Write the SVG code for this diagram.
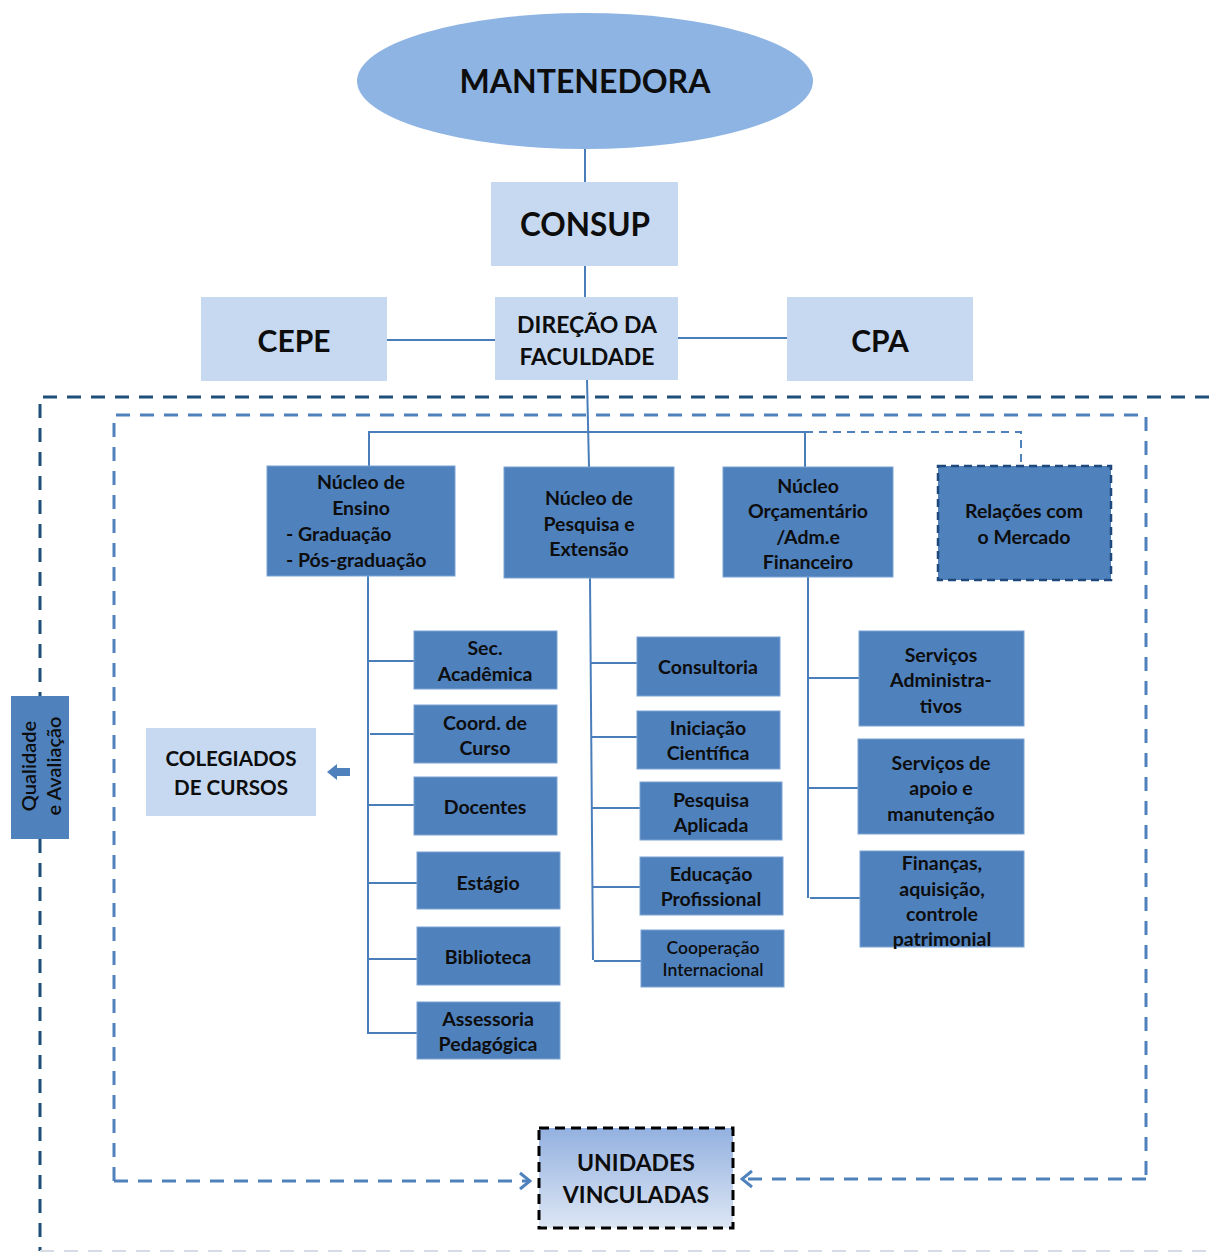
<svg xmlns="http://www.w3.org/2000/svg" width="1209" height="1254" viewBox="0 0 1209 1254">
<defs>
<linearGradient id="gU" x1="0" y1="0" x2="0" y2="1"><stop offset="0" stop-color="#93B1E0"/><stop offset="1" stop-color="#DDE6F4"/></linearGradient>
<marker id="chev" markerWidth="14" markerHeight="20" refX="12" refY="10" orient="auto" markerUnits="userSpaceOnUse"><path d="M2,2 L12,10 L2,18" fill="none" stroke="#4F81BD" stroke-width="3"/></marker>
</defs>
<style>
text{font-family:Lato,"Open Sans","Liberation Sans",sans-serif;font-weight:bold;fill:#0D0D0D;text-anchor:middle}
.dk{fill:#4F81BD;stroke:#7AA3D4;stroke-width:1}
.lt{fill:#C6D9F1}
.c{fill:none;stroke:#4A7EBB;stroke-width:2}
.t18{font-size:19.5px}
.t22{font-size:23px}
.t30{font-size:31.5px}
</style>
<rect width="1209" height="1254" fill="#FFFFFF"/>
<g id="frames">
<path d="M1209,397 H40 V696 M40,839 V1251" fill="none" stroke="#1F4E79" stroke-width="3" stroke-dasharray="14,10"/>
<path d="M40,1251 H1209" fill="none" stroke="#D5DCE6" stroke-width="2" stroke-dasharray="14,10"/>
<path d="M114,1181 V415 H1146 V1179" fill="none" stroke="#4F81BD" stroke-width="3" stroke-dasharray="14,10"/>
</g>
<g id="connectors">
<line class="c" x1="585" y1="149" x2="585" y2="182"/>
<line class="c" x1="585" y1="266" x2="585" y2="297"/>
<line class="c" x1="387" y1="340" x2="495" y2="340"/>
<line class="c" x1="678" y1="338" x2="787" y2="338"/>
<line class="c" x1="587" y1="380" x2="589" y2="467"/>
<polyline class="c" points="369,466 369,432 805,432 805,467"/>
<polyline fill="none" stroke="#4F81BD" stroke-width="2" stroke-dasharray="8,6" points="805,432 1021,432 1021,466"/>
<line class="c" x1="368" y1="576" x2="368" y2="1034"/>
<line class="c" x1="368" y1="661" x2="414" y2="661"/>
<line class="c" x1="370" y1="734" x2="414" y2="734"/>
<line class="c" x1="368" y1="805" x2="414" y2="805"/>
<line class="c" x1="368" y1="883" x2="417" y2="883"/>
<line class="c" x1="368" y1="959" x2="417" y2="959"/>
<line class="c" x1="368" y1="1033" x2="417" y2="1033"/>
<line class="c" x1="590" y1="578" x2="593" y2="960"/>
<line class="c" x1="591" y1="663" x2="637" y2="663"/>
<line class="c" x1="591" y1="737" x2="637" y2="737"/>
<line class="c" x1="592" y1="808" x2="640" y2="808"/>
<line class="c" x1="592" y1="887" x2="640" y2="887"/>
<line class="c" x1="594" y1="961" x2="641" y2="961"/>
<line class="c" x1="808" y1="577" x2="808" y2="898"/>
<line class="c" x1="808" y1="678" x2="859" y2="678"/>
<line class="c" x1="808" y1="788" x2="858" y2="788"/>
<line class="c" x1="810" y1="898" x2="860" y2="898"/>
<path d="M114,1181 H530" fill="none" stroke="#4F81BD" stroke-width="3" stroke-dasharray="14,10" marker-end="url(#chev)"/>
<path d="M1146,1179 H742" fill="none" stroke="#4F81BD" stroke-width="3" stroke-dasharray="14,10" marker-end="url(#chev)"/>
<path d="M350,768 H337 V764 L327,772 L337,780 V776 H350 Z" fill="#4F81BD"/>
</g>
<g id="mantenedora">
<ellipse cx="585" cy="81" rx="228" ry="68" fill="#8EB4E3"/>
<text x="585" y="93" style="font-size:32px">MANTENEDORA</text>
</g>
<g id="consup">
<rect class="lt" x="491" y="182" width="187" height="84"/>
<text class="t30" x="585" y="236">CONSUP</text>
</g>
<g id="direcao">
<rect class="lt" x="495" y="297" width="183" height="83"/>
<text class="t22" x="587" y="333">DIREÇÃO DA</text>
<text class="t22" x="587" y="365">FACULDADE</text>
</g>
<g id="cepe">
<rect class="lt" x="201" y="297" width="186" height="84"/>
<text x="294" y="352" style="font-size:30px">CEPE</text>
</g>
<g id="cpa">
<rect class="lt" x="787" y="297" width="186" height="84"/>
<text x="880" y="352" style="font-size:30px">CPA</text>
</g>
<g id="nucleo-ensino">
<rect class="dk" x="267" y="466" width="188" height="110"/>
<text class="t18" x="361" y="489">Núcleo de</text>
<text class="t18" x="361" y="515">Ensino</text>
<text class="t18" x="286" y="541" style="text-anchor:start">- Graduação</text>
<text class="t18" x="286" y="567" style="text-anchor:start">- Pós-graduação</text>
</g>
<g id="nucleo-pesquisa">
<rect class="dk" x="504" y="467" width="170" height="111"/>
<text class="t18" x="589" y="505">Núcleo de</text>
<text class="t18" x="589" y="531">Pesquisa e</text>
<text class="t18" x="589" y="556">Extensão</text>
</g>
<g id="nucleo-orcamentario">
<rect class="dk" x="723" y="467" width="170" height="110"/>
<text class="t18" x="808" y="493">Núcleo</text>
<text class="t18" x="808" y="518">Orçamentário</text>
<text class="t18" x="808" y="544">/Adm.e</text>
<text class="t18" x="808" y="569">Financeiro</text>
</g>
<g id="relacoes">
<rect x="938" y="466" width="173" height="114" fill="#4F81BD" stroke="#1F497D" stroke-width="2.5" stroke-dasharray="8,5"/>
<text class="t18" x="1024" y="518">Relações com</text>
<text class="t18" x="1024" y="544">o Mercado</text>
</g>
<g id="sec-academica">
<rect class="dk" x="414" y="631" width="143" height="58"/>
<text class="t18" x="485" y="655">Sec.</text>
<text class="t18" x="485" y="681">Acadêmica</text>
</g>
<g id="coord-curso">
<rect class="dk" x="414" y="705" width="143" height="58"/>
<text class="t18" x="485" y="730">Coord. de</text>
<text class="t18" x="485" y="755">Curso</text>
</g>
<g id="docentes">
<rect class="dk" x="414" y="777" width="143" height="58"/>
<text class="t18" x="485" y="814">Docentes</text>
</g>
<g id="estagio">
<rect class="dk" x="417" y="852" width="143" height="57"/>
<text class="t18" x="488" y="890">Estágio</text>
</g>
<g id="biblioteca">
<rect class="dk" x="417" y="927" width="143" height="58"/>
<text class="t18" x="488" y="964">Biblioteca</text>
</g>
<g id="assessoria">
<rect class="dk" x="417" y="1002" width="143" height="57"/>
<text class="t18" x="488" y="1026">Assessoria</text>
<text class="t18" x="488" y="1051">Pedagógica</text>
</g>
<g id="consultoria">
<rect class="dk" x="637" y="637" width="143" height="59"/>
<text class="t18" x="708" y="674">Consultoria</text>
</g>
<g id="iniciacao">
<rect class="dk" x="637" y="711" width="143" height="58"/>
<text class="t18" x="708" y="735">Iniciação</text>
<text class="t18" x="708" y="760">Científica</text>
</g>
<g id="pesquisa-aplicada">
<rect class="dk" x="640" y="782" width="142" height="58"/>
<text class="t18" x="711" y="807">Pesquisa</text>
<text class="t18" x="711" y="832">Aplicada</text>
</g>
<g id="educacao">
<rect class="dk" x="640" y="857" width="143" height="58"/>
<text class="t18" x="711" y="881">Educação</text>
<text class="t18" x="711" y="906">Profissional</text>
</g>
<g id="cooperacao">
<rect class="dk" x="641" y="930" width="143" height="57"/>
<text x="713" y="954" style="font-size:17.5px;font-weight:600">Cooperação</text>
<text x="713" y="976" style="font-size:17.5px;font-weight:600">Internacional</text>
</g>
<g id="servicos-adm">
<rect class="dk" x="859" y="631" width="165" height="95"/>
<text class="t18" x="941" y="662">Serviços</text>
<text class="t18" x="941" y="687">Administra-</text>
<text class="t18" x="941" y="713">tivos</text>
</g>
<g id="servicos-apoio">
<rect class="dk" x="858" y="739" width="166" height="95"/>
<text class="t18" x="941" y="770">Serviços de</text>
<text class="t18" x="941" y="795">apoio e</text>
<text class="t18" x="941" y="821">manutenção</text>
</g>
<g id="financas">
<rect class="dk" x="860" y="851" width="164" height="96"/>
<text class="t18" x="942" y="870">Finanças,</text>
<text class="t18" x="942" y="896">aquisição,</text>
<text class="t18" x="942" y="921">controle</text>
<text class="t18" x="942" y="946">patrimonial</text>
</g>
<g id="colegiados">
<rect class="lt" x="146" y="728" width="170" height="88"/>
<text x="231" y="766" style="font-size:20.6px">COLEGIADOS</text>
<text x="231" y="795" style="font-size:20.6px">DE CURSOS</text>
</g>
<g id="qualidade">
<rect x="11" y="696" width="58" height="143" fill="#4F81BD"/>
<text transform="translate(36,766) rotate(-90)" x="0" y="0" style="font-size:20px;font-weight:600">Qualidade</text>
<text transform="translate(61,766) rotate(-90)" x="0" y="0" style="font-size:20px;font-weight:600">e Avaliação</text>
</g>
<g id="unidades">
<rect x="539" y="1128" width="194" height="100" fill="url(#gU)" stroke="#000000" stroke-width="3" stroke-dasharray="10,6"/>
<text class="t22" x="636" y="1171">UNIDADES</text>
<text class="t22" x="636" y="1203">VINCULADAS</text>
</g>
</svg>
